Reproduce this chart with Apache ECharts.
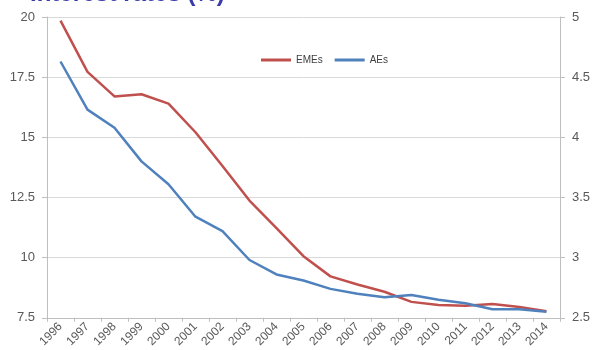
<!DOCTYPE html>
<html>
<head>
<meta charset="utf-8">
<script src="https://cdn.jsdelivr.net/npm/echarts@6/dist/echarts.min.js"></script>
<style>html,body{margin:0;padding:0;background:#fff;}#c{width:593px;height:350px;}</style>
</head>
<body>
<div id="c"></div>
<script>
const years = ['1996','1997','1998','1999','2000','2001','2002','2003','2004','2005','2006','2007','2008','2009','2010','2011','2012','2013','2014'];
const emes = [19.85,17.72,16.70,16.79,16.40,15.21,13.81,12.37,11.23,10.06,9.22,8.88,8.58,8.16,8.03,8.00,8.07,7.95,7.77];
const aes = [4.63,4.23,4.08,3.80,3.61,3.34,3.22,2.98,2.86,2.81,2.74,2.70,2.67,2.69,2.65,2.62,2.57,2.57,2.55];
const leftTicks = {min:7.5,max:20,interval:2.5};
const rightTicks = {min:2.5,max:5,interval:0.5};
const titleText = 'Interest rates (%)';

const chart = echarts.init(document.getElementById('c'), null, {renderer:'canvas'});
const axisLabelColor = '#595959';
const lineColor = '#BFBFBF';
chart.setOption({
  animation:false,
  backgroundColor:'#fff',
  title:{text:titleText,left:25,top:-23,textStyle:{color:'#3a3aa8',fontSize:24,fontWeight:'bold',fontFamily:'Liberation Sans'}},
  legend:{
    top:50,left:256,itemWidth:30,itemHeight:3,itemGap:12,icon:'rect',
    textStyle:{color:'#404040',fontSize:10,fontFamily:'Liberation Sans'},
    data:['EMEs','AEs']
  },
  grid:{left:47,right:33,top:17,bottom:25,containLabel:false},
  xAxis:{
    type:'category',data:years,boundaryGap:true,
    axisLine:{lineStyle:{color:lineColor}},
    axisTick:{show:true,length:4,lineStyle:{color:lineColor}},
    axisLabel:{rotate:45,interval:0,color:axisLabelColor,fontSize:12,fontFamily:'Liberation Sans',margin:7}
  },
  yAxis:[
    {type:'value',min:leftTicks.min,max:leftTicks.max,interval:leftTicks.interval,position:'left',
     axisLine:{show:true,lineStyle:{color:lineColor}},
     axisTick:{show:true,length:5,lineStyle:{color:lineColor}},
     splitLine:{lineStyle:{color:'#D9D9D9'}},
     axisLabel:{color:axisLabelColor,fontSize:13,fontFamily:'Liberation Sans',margin:12}},
    {type:'value',min:rightTicks.min,max:rightTicks.max,interval:rightTicks.interval,position:'right',
     axisLine:{show:true,lineStyle:{color:lineColor}},
     axisTick:{show:true,length:5,lineStyle:{color:lineColor}},
     splitLine:{show:false},
     axisLabel:{color:axisLabelColor,fontSize:13,fontFamily:'Liberation Sans',margin:12}}
  ],
  series:[
    {name:'EMEs',type:'line',yAxisIndex:0,data:emes,symbol:'none',lineStyle:{color:'#C0504D',width:2.5},itemStyle:{color:'#C0504D'}},
    {name:'AEs',type:'line',yAxisIndex:1,data:aes,symbol:'none',lineStyle:{color:'#4F81BD',width:2.5},itemStyle:{color:'#4F81BD'}}
  ]
});
</script>
</body>
</html>
